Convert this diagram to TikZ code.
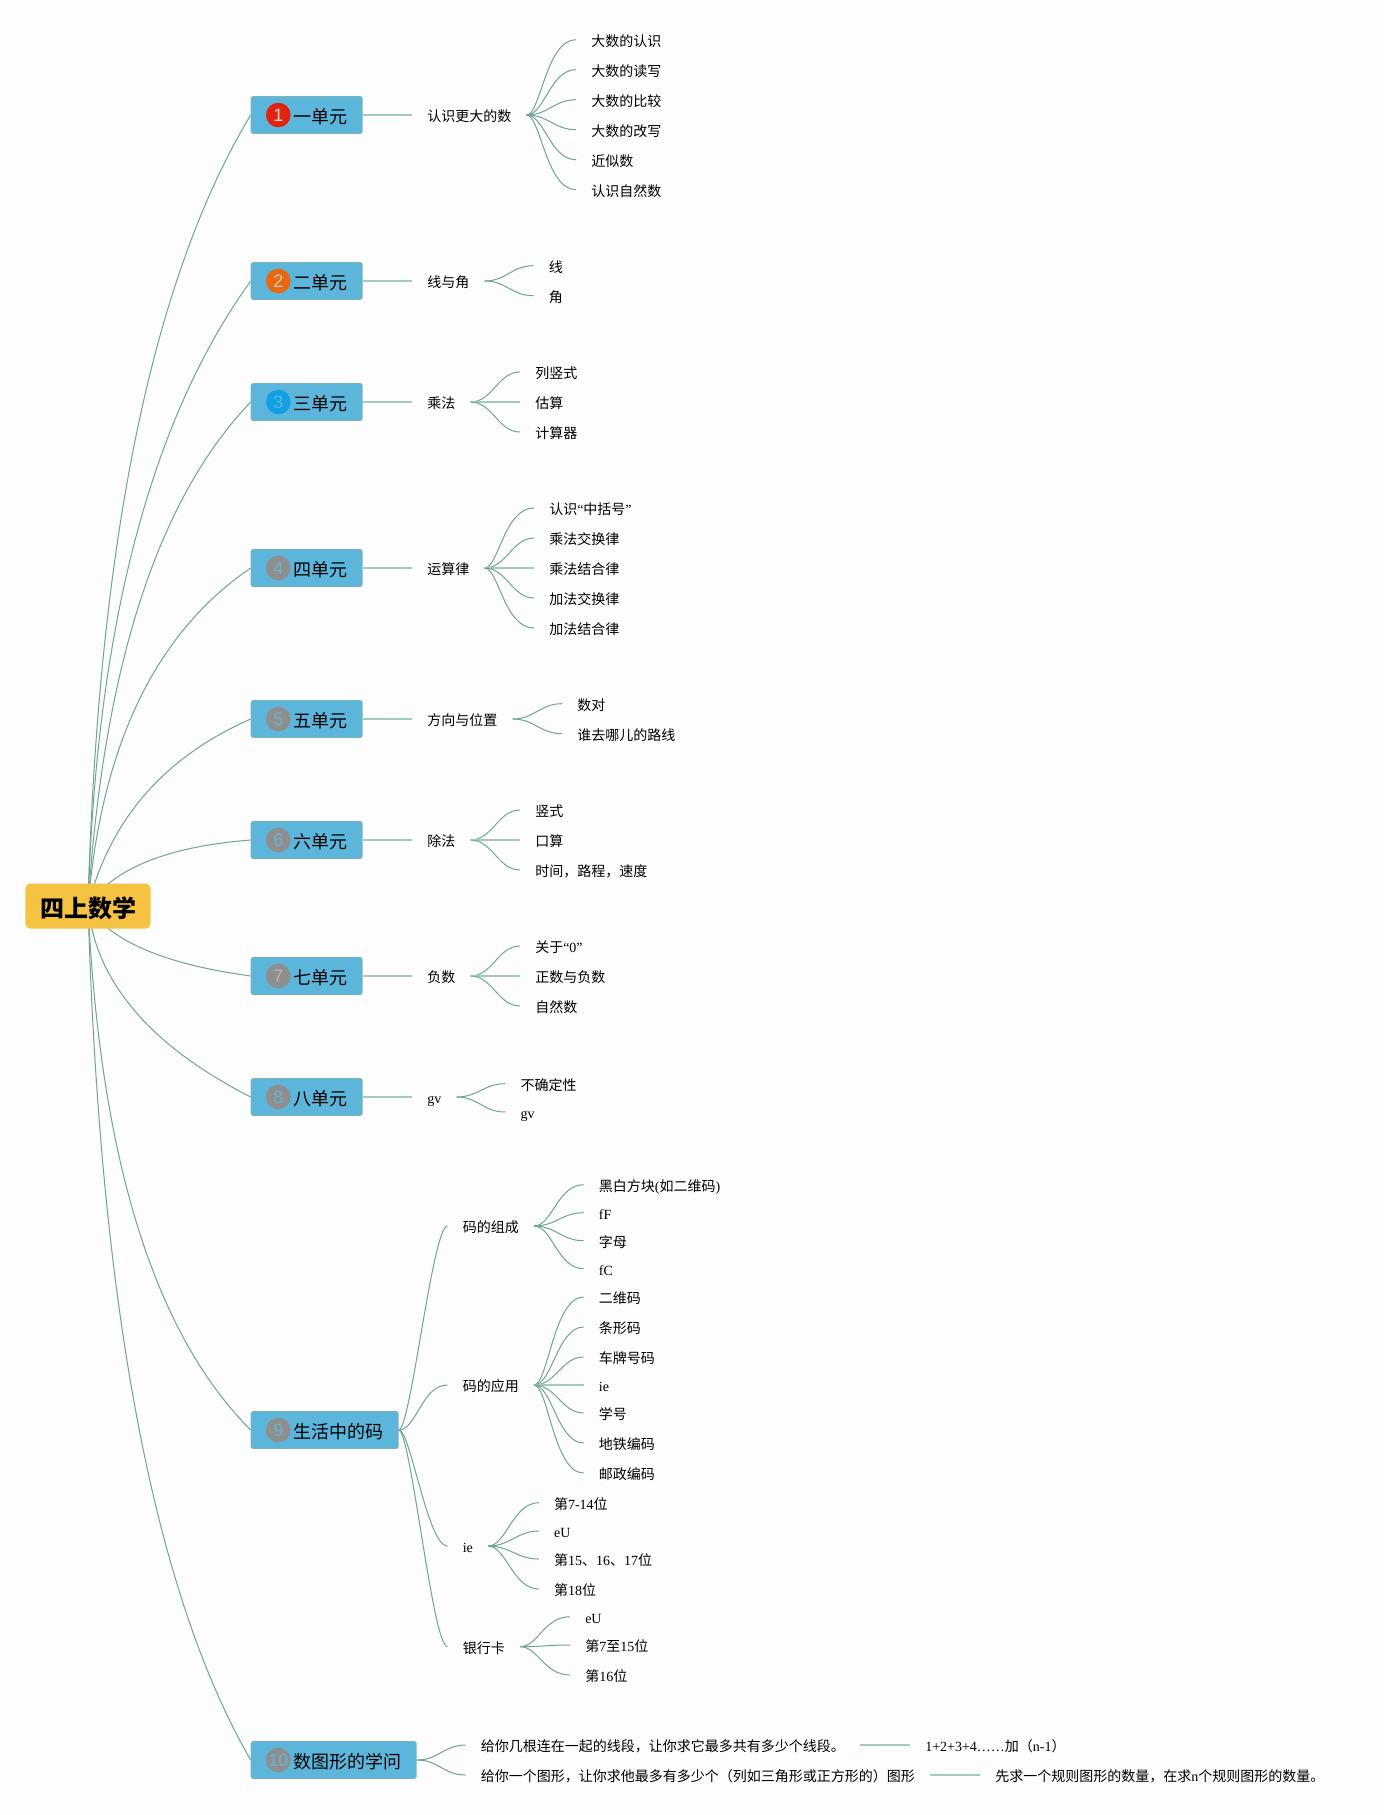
\documentclass[tikz,border=0pt]{standalone}
\usepackage{fontspec}
\setmainfont{Noto Sans CJK SC}
\newfontfamily\latfont{Liberation Serif}
\newfontfamily\digitfont{Liberation Sans}
\newcommand{\lat}[1]{{\latfont #1}}
\usetikzlibrary{backgrounds,calc}

\definecolor{pagebg}{HTML}{FDFDFD}
\definecolor{boxfill}{HTML}{5CB6DC}
\definecolor{boxline}{HTML}{7BB5B8}
\definecolor{rootfill}{HTML}{F5C242}
\definecolor{curvecol}{HTML}{6FA596}
\definecolor{stemcol}{HTML}{A3CBBE}
\definecolor{badgered}{HTML}{E0230F}
\definecolor{badgeorange}{HTML}{E8690F}
\definecolor{badgeblue}{HTML}{129FE6}
\definecolor{badgegray}{HTML}{8E8E8E}

\tikzset{
    rootbox/.style={rounded corners=3.5pt, fill=rootfill, inner xsep=10.9pt, inner ysep=0pt,
        minimum height=33.75pt, text height=18pt, text depth=1.32pt,
        font=\fontsize{18}{20}\selectfont\bfseries},
    unitbox/.style={anchor=west, rounded corners=1.5pt, fill=boxfill, draw=boxline, line width=0.75pt,
        inner xsep=11.25pt, inner ysep=0pt, minimum height=27.5pt, text height=14pt, text depth=1.2pt,
        font=\fontsize{13.5}{16}\selectfont},
    badge/.style={circle, inner sep=0pt, minimum size=18.5pt, font=\fontsize{13.5}{16}\digitfont},
    topic/.style={anchor=west, inner xsep=11.25pt, inner ysep=0pt, text height=11pt, text depth=1.1pt,
        font=\fontsize{10.5}{12}\selectfont},
    branchline/.style={draw=curvecol, line width=0.75pt},
    stemline/.style={draw=stemcol, line width=1.5pt}
}

\newcommand{\branch}[3]{%
    \ifnum#3=0
        \draw[stemline] (#1.east) -- (#2.west);
    \else
        \draw[branchline] (#1.east) .. controls +({44-#3},0) and +(-#3,0) .. (#2.west);
    \fi
}

\begin{document}
\begin{tikzpicture}[x=0.75pt, y=-0.75pt]
\useasboundingbox (0,0) rectangle (1384,1815);

% units
\node[rootbox] (root) at (88,906) {四上数学};

\foreach \k/\y/\col/\dig/\txt in {1/115/badgered/F3D3CC/一单元, 2/281/badgeorange/C9C4B8/二单元,
    3/402/badgeblue/5CB6DC/三单元, 4/568/badgegray/6AB3D2/四单元, 5/719/badgegray/6AB3D2/五单元,
    6/840/badgegray/6AB3D2/六单元, 7/976/badgegray/B5B5B5/七单元, 8/1097/badgegray/6AB3D2/八单元,
    9/1430/badgegray/6AB3D2/生活中的码, 10/1760/badgegray/6AB3D2/数图形的学问}
{
    \node[unitbox] (u\k) at (250.7,\y) {\hspace*{20.25pt}\txt};
    \definecolor{digitcol}{HTML}{\dig}
    \node[badge, fill=\col, text=digitcol] (b\k) at (278.3,\y) {\k};
}

% sub topics
\foreach \k/\y/\txt in {1/115/认识更大的数, 2/281/线与角, 3/402/乘法, 4/568/运算律,
    5/719/方向与位置, 6/840/除法, 7/976/负数, 8/1097/{\lat{gv}}}
{
    \node[topic] (s\k) at (412,\y) {\txt};
    \branch{u\k}{s\k}{0}
}

% leaves
\foreach \k/\y/\c/\txt in {1/39.7/30/大数的认识, 2/69.7/26/大数的读写, 3/99.7/22/大数的比较,
    4/129.7/22/大数的改写, 5/159.7/26/近似数, 6/189.7/30/认识自然数}
{
    \node[topic] (la\k) at (576,\y) {\txt};
    \branch{s1}{la\k}{\c}
}
\foreach \k/\y/\c/\txt in {1/265.7/22/线, 2/295.7/22/角}
{
    \node[topic] (lb\k) at (533.5,\y) {\txt};
    \branch{s2}{lb\k}{\c}
}
\foreach \k/\y/\c/\txt in {1/372/22/列竖式, 2/402/0/估算, 3/432/22/计算器}
{
    \node[topic] (lc\k) at (520,\y) {\txt};
    \branch{s3}{lc\k}{\c}
}
\foreach \k/\y/\c/\txt in {1/508/30/认识\lat{“}中括号\lat{”}, 2/538/22/乘法交换律, 3/568/0/乘法结合律,
    4/598/22/加法交换律, 5/628/30/加法结合律}
{
    \node[topic] (ld\k) at (534,\y) {\txt};
    \branch{s4}{ld\k}{\c}
}
\foreach \k/\y/\c/\txt in {1/703.7/22/数对, 2/733.7/22/谁去哪儿的路线}
{
    \node[topic] (le\k) at (562,\y) {\txt};
    \branch{s5}{le\k}{\c}
}
\foreach \k/\y/\c/\txt in {1/810/22/竖式, 2/840/0/口算, 3/870/22/时间，路程，速度}
{
    \node[topic] (lf\k) at (520,\y) {\txt};
    \branch{s6}{lf\k}{\c}
}
\foreach \k/\y/\c/\txt in {1/946/22/关于\lat{“0”}, 2/976/0/正数与负数, 3/1006/22/自然数}
{
    \node[topic] (lg\k) at (520,\y) {\txt};
    \branch{s7}{lg\k}{\c}
}
\foreach \k/\y/\c/\txt in {1/1083.7/22/不确定性, 2/1112/22/{\lat{gv}}}
{
    \node[topic] (lh\k) at (505.3,\y) {\txt};
    \branch{s8}{lh\k}{\c}
}

% unit nine
\node[topic] (ca) at (447.5,1226) {码的组成};
\node[topic] (cb) at (447.5,1385) {码的应用};
\node[topic] (cc) at (447.5,1546) {\lat{ie}};
\node[topic] (cd) at (447.5,1646.7) {银行卡};
\draw[branchline] (u9.east) .. controls +(12,0) and +(-15,0) .. (ca.west);
\branch{u9}{cb}{26}
\draw[branchline] (u9.east) .. controls +(12,0) and +(-20,0) .. (cc.west);
\draw[branchline] (u9.east) .. controls +(12,0) and +(-15,0) .. (cd.west);

\foreach \k/\y/\c/\txt in {1/1184.7/26/黑白方块\lat{(}如二维码\lat{)}, 2/1212.7/22/{\lat{fF}}, 3/1240.7/22/字母, 4/1268.7/26/{\lat{fC}}}
{
    \node[topic] (ma\k) at (583.6,\y) {\txt};
    \branch{ca}{ma\k}{\c}
}
\foreach \k/\y/\c/\txt in {1/1297/30/二维码, 2/1327/26/条形码, 3/1357/22/车牌号码, 4/1385/0/{\lat{ie}},
    5/1413/22/学号, 6/1443/26/地铁编码, 7/1473/30/邮政编码}
{
    \node[topic] (mb\k) at (583.6,\y) {\txt};
    \branch{cb}{mb\k}{\c}
}
\foreach \k/\y/\c/\txt in {1/1502.7/26/第\lat{7-14}位, 2/1531/22/{\lat{eU}}, 3/1559/22/第\lat{15}、\lat{16}、\lat{17}位, 4/1589/26/第\lat{18}位}
{
    \node[topic] (mc\k) at (538.8,\y) {\txt};
    \branch{cc}{mc\k}{\c}
}
\foreach \k/\y/\c/\txt in {1/1616.7/26/{\lat{eU}}, 2/1645/22/第\lat{7}至\lat{15}位, 3/1675/26/第\lat{16}位}
{
    \node[topic] (md\k) at (570,\y) {\txt};
    \branch{cd}{md\k}{\c}
}

% unit ten
\node[topic] (ta) at (465.7,1745) {给你几根连在一起的线段，让你求它最多共有多少个线段。};
\node[topic] (tb) at (465.7,1775) {给你一个图形，让你求他最多有多少个（列如三角形或正方形的）图形};
\node[topic] (tc) at (910,1745) {\lat{1+2+3+4……}加（\lat{n-1}）};
\node[topic] (td) at (980,1775) {先求一个规则图形的数量，在求\lat{n}个规则图形的数量。};
\branch{u10}{ta}{22}
\branch{u10}{tb}{22}
\draw[stemline] (ta.east) -- (tc.west);
\draw[stemline] (tb.east) -- (td.west);

% connectors from the root, behind it
\begin{scope}[on background layer]
\fill[pagebg] (0,0) rectangle (1384,1815);
\foreach \k/\cx/\cy in {1/103/360, 2/100/490, 3/111/548, 4/108/665, 5/121/776,
    6/125/850, 7/120/958, 8/100/1020, 9/106/1285, 10/106/1510}
{
    \draw[branchline] (root.center) .. controls ($(root.center)!0.667!(\cx,\cy)$) and ($(u\k.west)!0.667!(\cx,\cy)$) .. (u\k.west);
}
\end{scope}

\end{tikzpicture}
\end{document}
